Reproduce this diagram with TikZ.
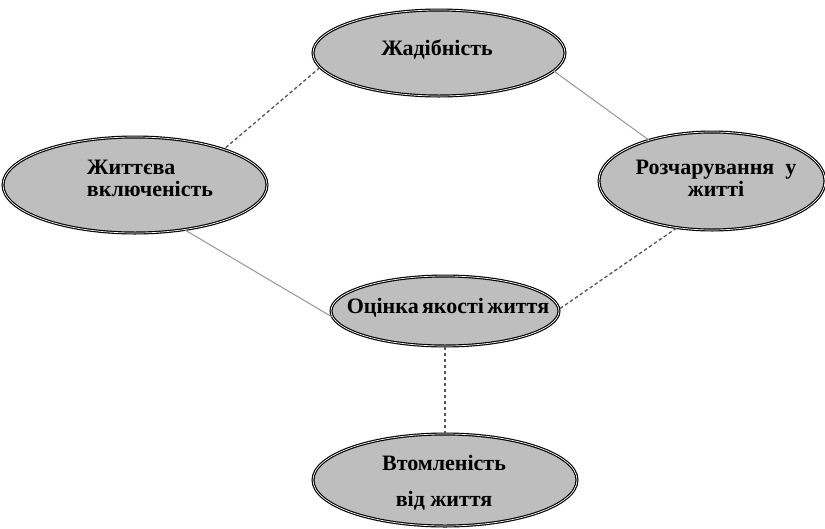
\documentclass[tikz,border=0pt]{standalone}
\usepackage{fontspec}
\setmainfont{Liberation Serif}
\usetikzlibrary{shapes.geometric}
\newcommand\elltext[3][c]{\makebox[0pt]{\renewcommand\arraystretch{#2}\begin{tabular}{@{}#1@{}}#3\end{tabular}}}
\tikzset{
  ell/.style={ellipse, fill=ellgray, draw=black, line width=1.15pt, double=white, double distance=0.7pt,
    inner sep=0pt},
  elltxt/.style={inner sep=0pt, font=\bfseries\fontsize{22}{25}\selectfont, text=black},
  solidlink/.style={draw=linegray, line width=1pt},
  dashlink/.style={draw=dashgray, line width=1.3pt, dash pattern=on 3.5pt off 2.5pt},
}
\definecolor{ellgray}{RGB}{190,190,190}
\definecolor{linegray}{RGB}{150,150,150}
\definecolor{dashgray}{RGB}{85,85,85}
\begin{document}
\begin{tikzpicture}[x=1pt,y=-1pt]
\useasboundingbox (0,0) rectangle (825,528);
\node[ell, minimum width=252, minimum height=86] (zh) at (439,53) {};
\node[ell, minimum width=264, minimum height=96] (zt) at (135,185) {};
\node[ell, minimum width=226, minimum height=98] (rz) at (712,181) {};
\node[ell, minimum width=228, minimum height=70] (oc) at (445,311) {};
\node[ell, minimum width=264, minimum height=92] (vt) at (445,480) {};
\node[elltxt] (zhT) at (437,50) {\elltext{1}{Жадібність}};
\node[elltxt] (ztT) at (150,181) {\elltext[l]{0.9}{Життєва\\включеність}};
\node[elltxt] (rzT) at (716,181) {\elltext{0.9}{Розчарування\ \ у\\житті}};
\node[elltxt] (ocT) at (448,308) {\elltext{1}{Оцінка\hspace{0.15em}якості\hspace{0.15em}життя}};
\node[elltxt] (vtT) at (444,481) {\elltext{1.45}{Втомленість\\від життя}};
\draw[dashlink] (zh.187) -- (zt.22);
\draw[solidlink] (zh.351) -- (rz.147);
\draw[solidlink] (zt.318) -- (oc.183);
\draw[dashlink] (rz.233) -- (oc.1.5);
\draw[dashlink] (oc.south) -- (vt.north);
\end{tikzpicture}
\end{document}
